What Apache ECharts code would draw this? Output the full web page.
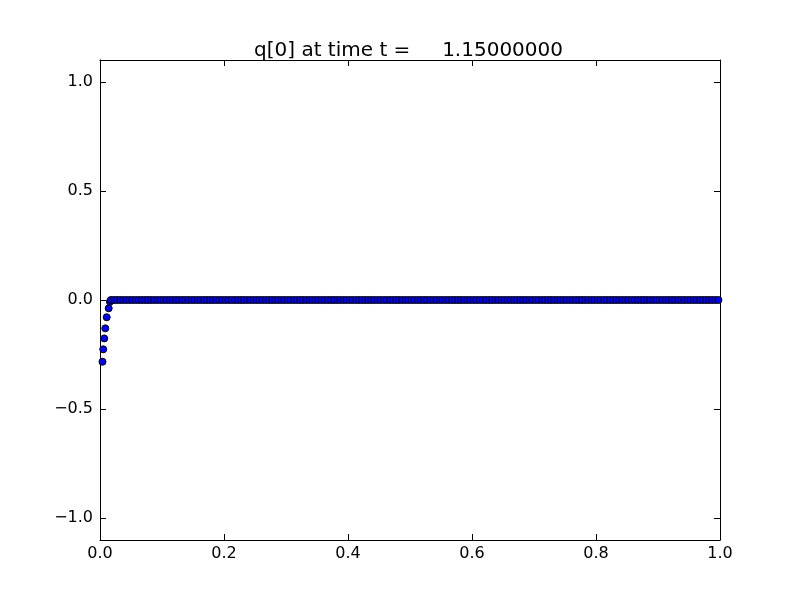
<!DOCTYPE html>
<html>
<head>
<meta charset="utf-8">
<script src="https://cdn.jsdelivr.net/npm/echarts@6/dist/echarts.min.js"></script>
<style>html,body{margin:0;padding:0;background:#fff;}#c{width:800px;height:600px;}</style>
</head>
<body>
<div id="c"></div>
<script>
const titleText = 'q[0] at time t =     1.15000000';
const xTicks = [0, 0.2, 0.4, 0.6, 0.8, 1.0];
const yTicks = [-1.0, -0.5, 0.0, 0.5, 1.0];
// points of the steep part near x = 0
const xLeft = [0.0040, 0.0052, 0.0068, 0.0085, 0.0108, 0.0140, 0.0160];
const yLeft = [-0.283, -0.226, -0.176, -0.130, -0.079, -0.038, -0.008];
// flat part of the solution
const xFlat = [
0.0175,0.0225,0.0275,0.0325,0.0375,0.0425,0.0475,0.0525,0.0575,0.0625,0.0675,0.0725,0.0775,0.0825,0.0875,0.0925,0.0975,
0.1025,0.1075,0.1125,0.1175,0.1225,0.1275,0.1325,0.1375,0.1425,0.1475,0.1525,0.1575,0.1625,0.1675,0.1725,0.1775,0.1825,0.1875,0.1925,0.1975,
0.2025,0.2075,0.2125,0.2175,0.2225,0.2275,0.2325,0.2375,0.2425,0.2475,0.2525,0.2575,0.2625,0.2675,0.2725,0.2775,0.2825,0.2875,0.2925,0.2975,
0.3025,0.3075,0.3125,0.3175,0.3225,0.3275,0.3325,0.3375,0.3425,0.3475,0.3525,0.3575,0.3625,0.3675,0.3725,0.3775,0.3825,0.3875,0.3925,0.3975,
0.4025,0.4075,0.4125,0.4175,0.4225,0.4275,0.4325,0.4375,0.4425,0.4475,0.4525,0.4575,0.4625,0.4675,0.4725,0.4775,0.4825,0.4875,0.4925,0.4975,
0.5025,0.5075,0.5125,0.5175,0.5225,0.5275,0.5325,0.5375,0.5425,0.5475,0.5525,0.5575,0.5625,0.5675,0.5725,0.5775,0.5825,0.5875,0.5925,0.5975,
0.6025,0.6075,0.6125,0.6175,0.6225,0.6275,0.6325,0.6375,0.6425,0.6475,0.6525,0.6575,0.6625,0.6675,0.6725,0.6775,0.6825,0.6875,0.6925,0.6975,
0.7025,0.7075,0.7125,0.7175,0.7225,0.7275,0.7325,0.7375,0.7425,0.7475,0.7525,0.7575,0.7625,0.7675,0.7725,0.7775,0.7825,0.7875,0.7925,0.7975,
0.8025,0.8075,0.8125,0.8175,0.8225,0.8275,0.8325,0.8375,0.8425,0.8475,0.8525,0.8575,0.8625,0.8675,0.8725,0.8775,0.8825,0.8875,0.8925,0.8975,
0.9025,0.9075,0.9125,0.9175,0.9225,0.9275,0.9325,0.9375,0.9425,0.9475,0.9525,0.9575,0.9625,0.9675,0.9725,0.9775,0.9825,0.9875,0.9925,0.9975
];
const yFlat = xFlat.map(() => 0.0); // every flat point reads as 0.0

const data = [];
xLeft.forEach((x, i) => data.push([x, yLeft[i]]));
xFlat.forEach((x, i) => data.push([x, yFlat[i]]));

const font = 'DejaVu Sans';
const fmt = v => (v < 0 ? '\u2212' : '') + Math.abs(v).toFixed(1);
const tickStyle = { show: true, inside: true, length: 6, lineStyle: { color: '#000', width: 1 } };
const lineStyle = { show: true, onZero: false, lineStyle: { color: '#000', width: 1 } };

const chart = echarts.init(document.getElementById('c'), null, { renderer: 'canvas' });
chart.setOption({
  animation: false,
  backgroundColor: '#fff',
  title: {
    text: titleText, left: 249, top: 36,
    textStyle: { fontFamily: font, fontSize: 20, fontWeight: 'normal', color: '#000' }
  },
  grid: { left: 100, right: 80, top: 60, bottom: 60, containLabel: false },
  xAxis: [
    { type: 'value', min: 0, max: 1, position: 'bottom', axisLine: lineStyle,
      axisTick: Object.assign({}, tickStyle, { customValues: xTicks }),
      axisLabel: { customValues: xTicks, formatter: fmt, fontFamily: font, fontSize: 16, color: '#000', margin: 6 },
      splitLine: { show: false } },
    { type: 'value', min: 0, max: 1, position: 'top', axisLine: lineStyle,
      axisTick: Object.assign({}, tickStyle, { customValues: xTicks }),
      axisLabel: { show: false }, splitLine: { show: false } }
  ],
  yAxis: [
    { type: 'value', min: -1.1, max: 1.1, position: 'left', axisLine: lineStyle,
      axisTick: Object.assign({}, tickStyle, { customValues: yTicks }),
      axisLabel: { customValues: yTicks, formatter: fmt, fontFamily: font, fontSize: 16, color: '#000', margin: 7 },
      splitLine: { show: false } },
    { type: 'value', min: -1.1, max: 1.1, position: 'right', axisLine: lineStyle,
      axisTick: Object.assign({}, tickStyle, { customValues: yTicks }),
      axisLabel: { show: false }, splitLine: { show: false } }
  ],
  series: [{
    type: 'scatter', xAxisIndex: 0, yAxisIndex: 0, data: data,
    symbol: 'circle', symbolSize: 7, clip: true,
    itemStyle: { color: '#0000ff', borderColor: '#000', borderWidth: 1, opacity: 1 }
  }]
});
</script>
</body>
</html>
